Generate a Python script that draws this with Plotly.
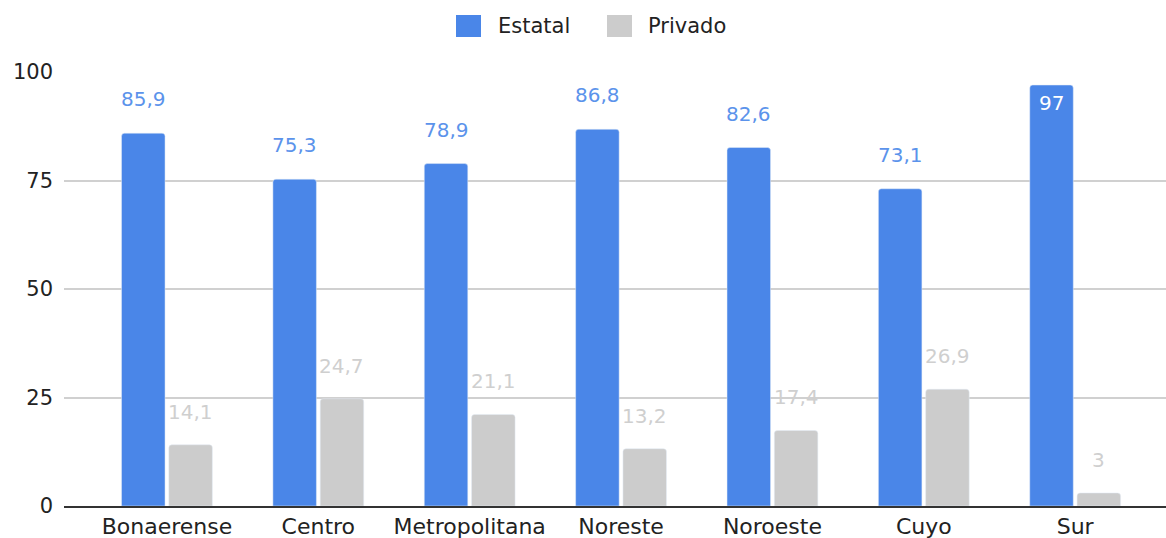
import plotly.graph_objects as go

regiones = ["Bonaerense", "Centro", "Metropolitana", "Noreste", "Noroeste", "Cuyo", "Sur"]
estatal = [85.9, 75.3, 78.9, 86.8, 82.6, 73.1, 97]
privado = [14.1, 24.7, 21.1, 13.2, 17.4, 26.9, 3]
series_names = ["Estatal", "Privado"]
y_ticks = [0, 25, 50, 75, 100]

BLUE = "#4a86e8"
GRAY = "#cccccc"
BLUE_LABEL = "#5b93eb"
GRAY_LABEL = "#cfcfcf"
FONT = "DejaVu Sans, Arial, sans-serif"

fig = go.Figure()
fig.add_trace(go.Bar(x=regiones, y=estatal, name=series_names[0], marker_color=BLUE, showlegend=False))
fig.add_trace(go.Bar(x=regiones, y=privado, name=series_names[1], marker_color=GRAY, showlegend=False))

def fmt(v):
    s = f"{v:g}"
    return s.replace(".", ",")

annotations = []
for r, v in zip(regiones, estatal):
    inside = v > 92
    annotations.append(dict(
        x=r, y=v, xref="x", yref="y", text=fmt(v), showarrow=False,
        xshift=-23.6, yshift=-18 if inside else 34,
        font=dict(size=20, color="white" if inside else BLUE_LABEL, family=FONT),
    ))
for r, v in zip(regiones, privado):
    annotations.append(dict(
        x=r, y=v, xref="x", yref="y", text=fmt(v), showarrow=False,
        xshift=23.6, yshift=33,
        font=dict(size=20, color=GRAY_LABEL, family=FONT),
    ))

# custom legend
shapes = []
legend_items = [(series_names[0], BLUE, 456, 496), (series_names[1], GRAY, 607, 646)]
for name, col, sx, tx in legend_items:
    shapes.append(dict(type="rect", xref="paper", yref="paper",
                       x0=(sx - 64) / 1102, x1=(sx + 25 - 64) / 1102,
                       y0=(506 - 37) / 434, y1=(506 - 15) / 434,
                       fillcolor=col, line=dict(width=0), layer="above"))
    annotations.append(dict(x=(tx - 64) / 1102, y=(506 - 26) / 434, xref="paper", yref="paper",
                            text=name, showarrow=False, xanchor="left", yanchor="middle",
                            font=dict(size=21, color="#222222", family=FONT)))

fig.update_layout(
    width=1166, height=538,
    margin=dict(l=64, r=0, t=72, b=32),
    paper_bgcolor="white", plot_bgcolor="white",
    barmode="group", bargap=0.375, bargroupgap=0.08,
    barcornerradius=3,
    font=dict(family=FONT, size=21, color="#222222"),
    annotations=annotations, shapes=shapes,
    xaxis=dict(range=[-0.68, 6.6], showgrid=False, showline=True, linecolor="#333333", linewidth=2,
               ticks="", ticklabelstandoff=0, tickfont=dict(size=22, color="#222222"), fixedrange=True),
    yaxis=dict(range=[0, 100], tickvals=y_ticks, showgrid=True, gridcolor="#d0d0d0", gridwidth=1.5,
               zeroline=False, ticks="", ticklabelstandoff=10,
               tickfont=dict(size=21, color="#222222"), fixedrange=True),
)

fig.write_html("out.html", config={"displayModeBar": False})
with open("out.html", "r", encoding="utf-8") as f:
    html = f.read()
html = html.replace("<head>", "<head><style>html,body{margin:0;padding:0;overflow:hidden;}</style>", 1)
with open("out.html", "w", encoding="utf-8") as f:
    f.write(html)
